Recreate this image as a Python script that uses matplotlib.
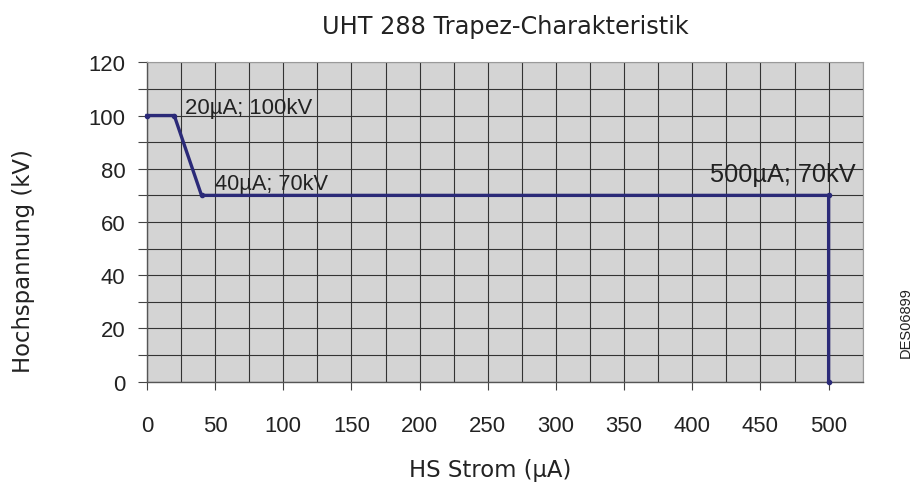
import matplotlib
matplotlib.use("Agg")
import matplotlib.pyplot as plt
from matplotlib.ticker import MultipleLocator
from matplotlib import font_manager

current_uA = [0, 20, 40, 500, 500]
voltage_kV = [100, 100, 70, 70, 0]
ann_labels = ["20µA; 100kV", "40µA; 70kV", "500µA; 70kV"]
x_ticks = [0, 50, 100, 150, 200, 250, 300, 350, 400, 450, 500]
y_ticks = [0, 20, 40, 60, 80, 100, 120]

names = {f.name for f in font_manager.fontManager.ttflist}
NARROW = 'Liberation Sans Narrow' in names
num_family = ['Liberation Sans Narrow', 'DejaVu Sans'] if NARROW else ['Liberation Sans', 'DejaVu Sans']
scale = 1.0 if NARROW else 0.84

plt.rcParams['font.family'] = num_family

fig = plt.figure(figsize=(9.15, 4.89), dpi=100)
ax = fig.add_axes([147/915, 1-382.7/489, (862.7-147)/915, (382.7-63.3)/489])
ax.set_facecolor('#d4d4d4')
ax.set_xlim(0, 525)
ax.set_ylim(0, 120)
ax.set_xticks(x_ticks)
ax.set_yticks(y_ticks)
ax.xaxis.set_minor_locator(MultipleLocator(25))
ax.yaxis.set_minor_locator(MultipleLocator(10))
ax.grid(which='both', color='#333333', linewidth=0.8)
ax.set_axisbelow(True)
ax.tick_params(axis='x', which='major', direction='out', length=6, width=0.8, color='#444444',
               labelsize=19 * scale, pad=18, labelcolor='#222222')
ax.tick_params(axis='x', which='minor', length=0)
ax.tick_params(axis='y', which='both', direction='out', length=6.5, width=0.8, color='#444444',
               labelsize=19 * scale, pad=9, labelcolor='#222222')
for s in ['top', 'right']:
    ax.spines[s].set_color('#9a9a9a')
for s in ['left', 'bottom']:
    ax.spines[s].set_color('#555555')
    ax.spines[s].set_linewidth(1.0)

ax.plot(current_uA, voltage_kV, color='#2b2a78', linewidth=2.4, marker='o', markersize=3,
        solid_joinstyle='round', clip_on=False, zorder=5)

ax.text(27.9, 100.9, ann_labels[0], fontsize=19 * scale, color='#222222', va='baseline', ha='left')
ax.text(49.9, 72.5, ann_labels[1], fontsize=18.7 * scale, color='#222222', va='baseline', ha='left')
ax.text(413, 75.5, ann_labels[2], fontsize=21.8 * scale, color='#222222', va='baseline', ha='left')

fig.text(505/915, 1-34/489, "UHT 288 Trapez-Charakteristik", ha='center', va='baseline', fontsize=17.3,
         color='#222222', family=['DejaVu Sans'])
fig.text(490/915, 1-476.7/489, "HS Strom (µA)", ha='center', va='baseline', fontsize=16.4,
         color='#222222', family=['DejaVu Sans'])
fig.text(24/915, 1-261/489, "Hochspannung (kV)", ha='center', va='center', rotation=90, fontsize=16.4,
         color='#222222', family=['DejaVu Sans'])
fig.text(906/915, 1-323/489, "DES06899", ha='center', va='center', rotation=90, fontsize=10.5,
         color='#222222', family=['Liberation Sans', 'DejaVu Sans'])

fig.savefig("out.png", dpi=100)
